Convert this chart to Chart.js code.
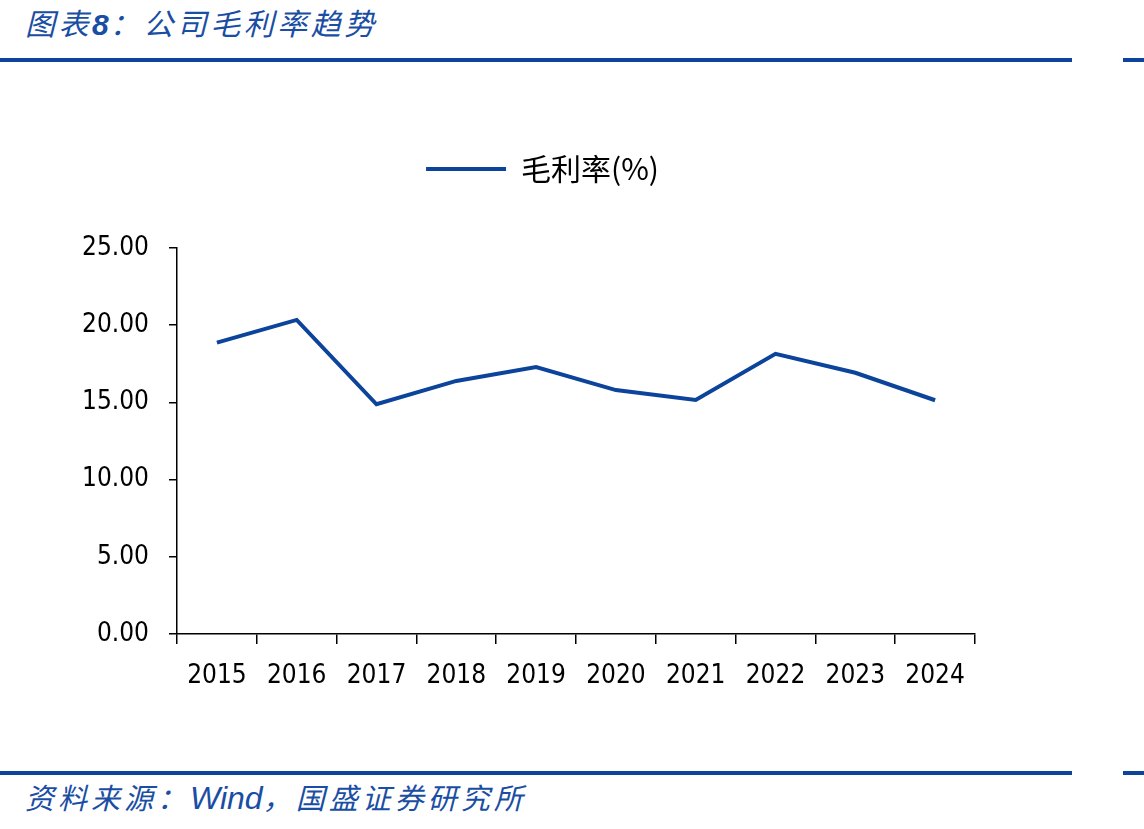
<!DOCTYPE html>
<html>
<head>
<meta charset="utf-8">
<script src="https://cdn.jsdelivr.net/npm/chart.js@4.4.1/dist/chart.umd.min.js"></script>
<style>
    html, body { margin: 0; padding: 0; background: #ffffff; }
    body { width: 1144px; height: 829px; position: relative; overflow: hidden; }
    .title {
        position: absolute; left: 25px; top: 0px;
        font-family: "Noto Sans CJK SC", sans-serif; font-style: italic;
        font-size: 30px; letter-spacing: 3.5px; color: #1a4ea3; white-space: nowrap;
    }
    .title b { font-family: "Liberation Sans", sans-serif; font-weight: bold; letter-spacing: 1px; }
    .source {
        position: absolute; left: 25px; top: 775px;
        font-family: "Noto Sans CJK SC", sans-serif; font-style: italic;
        font-size: 29px; letter-spacing: 4px; color: #1a4ea3; white-space: nowrap;
    }
    .source span { font-family: "Liberation Sans", sans-serif; font-size: 32px; letter-spacing: 0; }
    .rule { position: absolute; height: 4px; background: #0b449a; }
    #wrap { position: absolute; left: 0; top: 80px; width: 1144px; height: 690px; }
</style>
</head>
<body>
<div class="title">图表<b>8</b>：公司毛利率趋势</div>
<div class="rule" style="left:0; top:58px; width:1072px;"></div>
<div class="rule" style="left:1123px; top:58px; width:21px;"></div>
<div id="wrap"><canvas id="grossChart"></canvas></div>
<div class="rule" style="left:0; top:771px; width:1072px;"></div>
<div class="rule" style="left:1123px; top:771px; width:21px;"></div>
<div class="source">资料来源：<span>Wind</span>，国盛证券研究所</div>

<script>
// Chart data
const years = ['2015', '2016', '2017', '2018', '2019', '2020', '2021', '2022', '2023', '2024'];
const grossMargin = [18.87, 20.34, 14.88, 16.39, 17.29, 15.80, 15.16, 18.15, 16.92, 15.14];
const seriesName = '毛利率(%)';
const yTicks = [0, 5, 10, 15, 20, 25];

const lineColor = '#0b449a';
const axisFont = { family: 'DejaVu Sans Condensed', size: 26 };

// push the legend up away from the plot and nudge it right
const legendGap = {
    id: 'legendGap',
    beforeInit(chart) {
        const fit = chart.legend.fit;
        chart.legend.fit = function() {
            fit.bind(chart.legend)();
            this.height += 54;
        };
    },
    afterLayout(chart) {
        chart.legend.left += 40;
    }
};

const ctx = document.getElementById('grossChart').getContext('2d');

new Chart(ctx, {
    type: 'line',
    data: {
        labels: years,
        datasets: [{
            label: seriesName,
            data: grossMargin,
            borderColor: lineColor,
            backgroundColor: lineColor,
            borderWidth: 4,
            pointRadius: 0,
            tension: 0,
            fill: false
        }]
    },
    options: {
        responsive: true,
        maintainAspectRatio: false,
        animation: false,
        layout: {
            padding: { top: 64, left: 70, right: 169, bottom: 56 }
        },
        plugins: {
            legend: {
                display: true,
                position: 'top',
                labels: {
                    usePointStyle: true,
                    pointStyle: 'line',
                    pointStyleWidth: 80,
                    padding: 10,
                    color: '#000000',
                    font: { family: 'Noto Sans CJK SC', size: 30 }
                }
            },
            tooltip: { enabled: false }
        },
        scales: {
            x: {
                offset: true,
                grid: {
                    offset: true,
                    drawOnChartArea: false,
                    drawTicks: true,
                    tickLength: 10,
                    color: '#000000',
                    lineWidth: 1.5
                },
                border: { display: true, color: '#000000', width: 1.5 },
                ticks: {
                    color: '#000000',
                    font: axisFont,
                    padding: 17,
                    maxRotation: 0,
                    autoSkip: false
                },
                afterFit: function(scale) { scale.height = 80; }
            },
            y: {
                min: 0,
                max: 25,
                afterBuildTicks: function(scale) {
                    scale.ticks = yTicks.map(v => ({ value: v }));
                },
                grid: {
                    drawOnChartArea: false,
                    drawTicks: true,
                    tickLength: 8,
                    color: '#000000',
                    lineWidth: 1.5
                },
                border: { display: true, color: '#000000', width: 1.5 },
                ticks: {
                    color: '#000000',
                    font: axisFont,
                    padding: 20,
                    callback: function(value) {
                        return Number(value).toFixed(2);
                    }
                },
                afterFit: function(scale) { scale.width = 107; }
            }
        }
    },
    plugins: [legendGap]
});
</script>
</body>
</html>
